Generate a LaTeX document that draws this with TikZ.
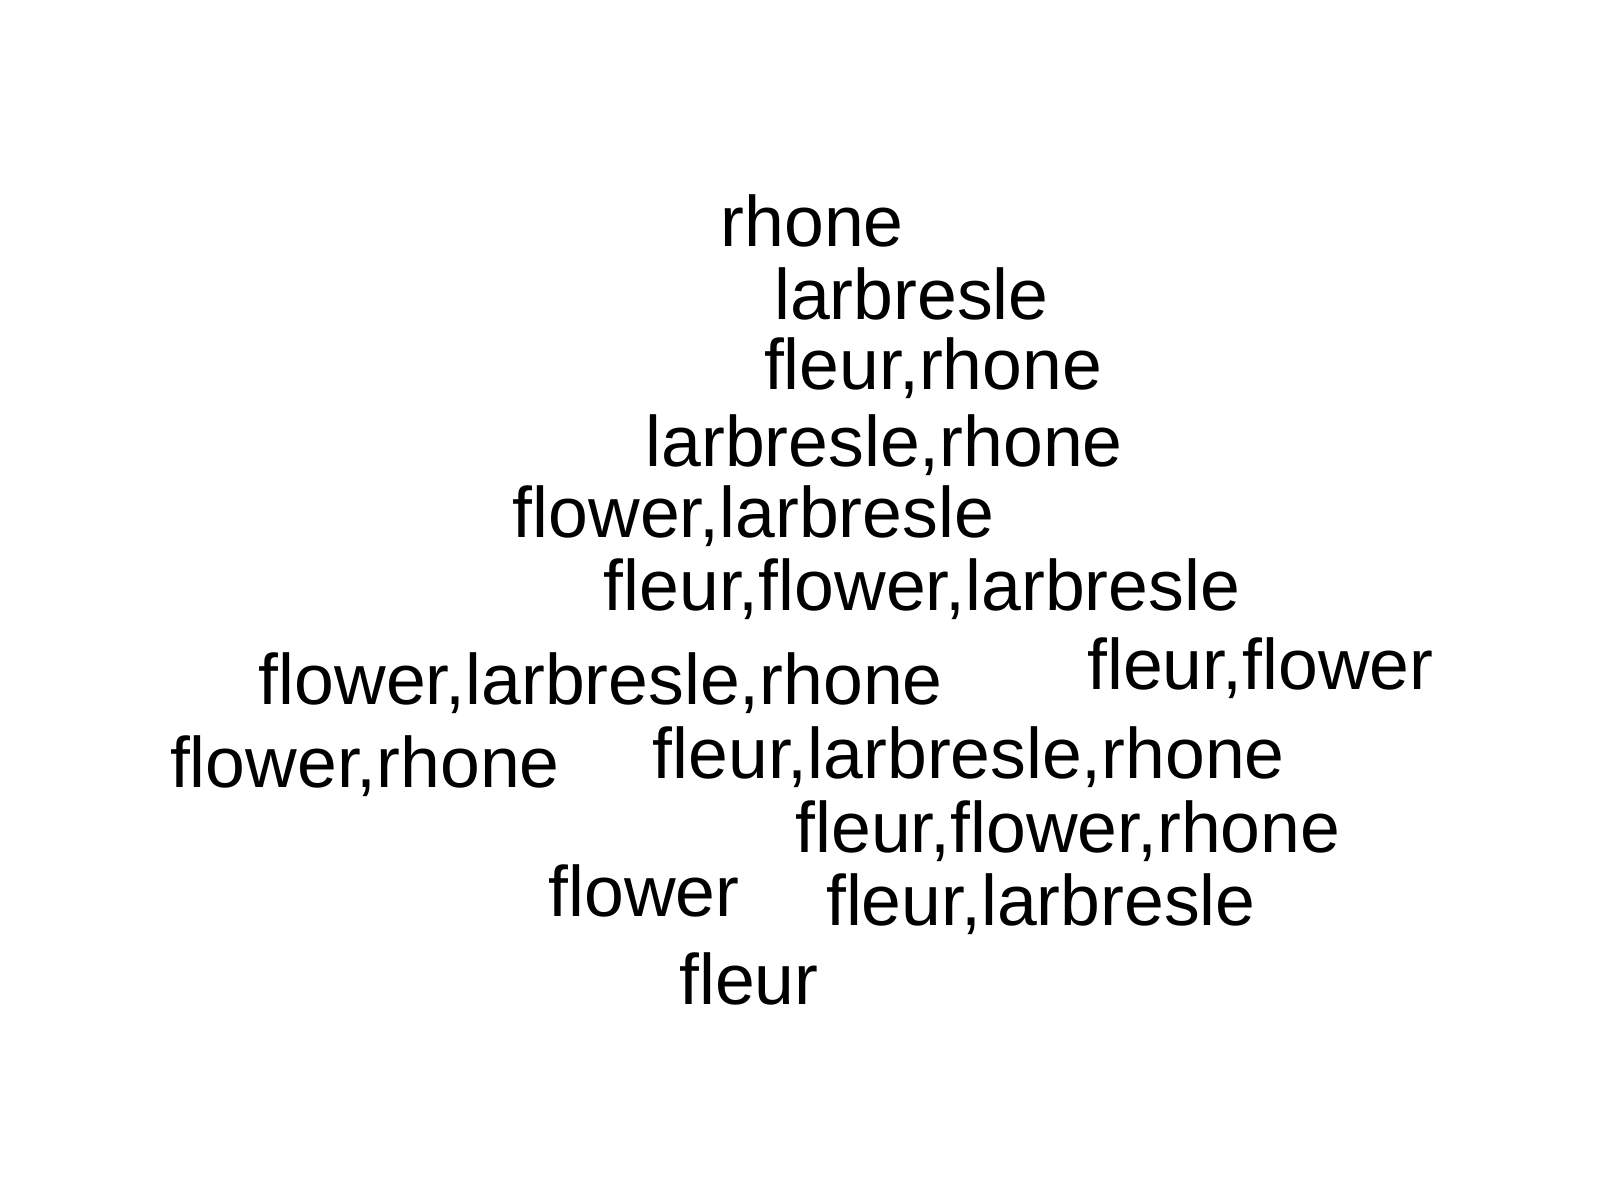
\documentclass[tikz,border=0pt]{standalone}
\usepackage{fontspec}
\setmainfont{Liberation Sans}
\begin{document}
\begin{tikzpicture}
\tikzset{word/.style={anchor=base west, inner sep=0pt, font=\fontsize{20.35}{24}\selectfont}}
\useasboundingbox[fill=white] (0,0) rectangle (16,12);
\node[word] (w1) at (7.20,9.53) {rhone};
\node[word] (w2) at (7.735,8.806) {larbresle};
\node[word] (w3) at (7.633,8.102) {fleur,rhone};
\node[word] (w4) at (6.449,7.337) {larbresle,rhone};
\node[word] (w5) at (5.122,6.622) {flower,larbresle};
\node[word] (w6) at (6.031,5.898) {fleur,flower,larbresle};
\node[word] (w7) at (10.867,5.102) {fleur,flower};
\node[word] (w8) at (2.582,4.959) {flower,larbresle,rhone};
\node[word] (w9) at (1.694,4.122) {flower,rhone};
\node[word] (w10) at (6.520,4.214) {fleur,larbresle,rhone};
\node[word] (w11) at (7.949,3.480) {fleur,flower,rhone};
\node[word] (w12) at (5.480,2.837) {flower};
\node[word] (w13) at (8.255,2.745) {fleur,larbresle};
\node[word] (w14) at (6.786,1.959) {fleur};
\end{tikzpicture}
\end{document}
